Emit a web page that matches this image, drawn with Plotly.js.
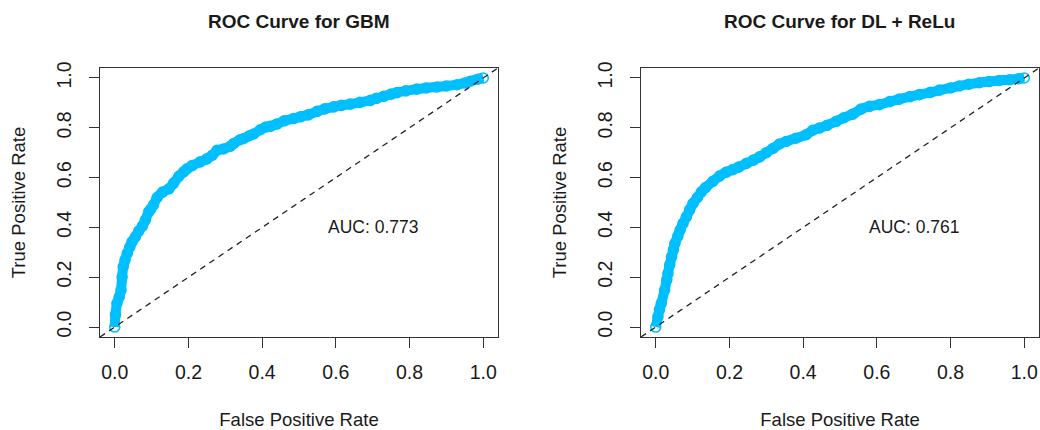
<!DOCTYPE html>
<html>
<head>
<meta charset="utf-8">
<script src="https://cdn.plot.ly/plotly-3.0.1.min.js"></script>
<style>html,body{margin:0;padding:0;background:#fff;}#chart{width:1040px;height:430px;}</style>
</head>
<body>
<div id="chart"></div>
<script>
// ---- data ----
const modelNames = ["GBM", "DL + ReLu"];
const aucValues = [0.773, 0.761];
const tickValues = [0, 0.2, 0.4, 0.6, 0.8, 1.0];
const tickLabels = ["0.0", "0.2", "0.4", "0.6", "0.8", "1.0"];
const axisRange = [-0.04, 1.04];

const gbmFpr = [0, 0.002, 0.006, 0.012, 0.017, 0.02, 0.023, 0.028, 0.034, 0.041, 0.047, 0.056, 0.065, 0.075, 0.083, 0.092, 0.097, 0.105, 0.115, 0.13, 0.147, 0.16, 0.174, 0.187, 0.196, 0.21, 0.232, 0.25, 0.265, 0.278, 0.295, 0.314, 0.323, 0.34, 0.35, 0.365, 0.377, 0.395, 0.41, 0.422, 0.44, 0.46, 0.485, 0.504, 0.525, 0.549, 0.57, 0.594, 0.615, 0.639, 0.665, 0.694, 0.71, 0.73, 0.75, 0.766, 0.79, 0.82, 0.845, 0.874, 0.9, 0.929, 0.95, 0.965, 0.985, 1.0];
const gbmTpr = [0, 0.05, 0.095, 0.12, 0.148, 0.2, 0.242, 0.27, 0.296, 0.322, 0.342, 0.362, 0.385, 0.405, 0.429, 0.462, 0.472, 0.49, 0.52, 0.542, 0.555, 0.578, 0.605, 0.623, 0.635, 0.648, 0.663, 0.675, 0.69, 0.71, 0.715, 0.726, 0.737, 0.752, 0.757, 0.768, 0.775, 0.792, 0.803, 0.806, 0.815, 0.828, 0.837, 0.844, 0.852, 0.866, 0.876, 0.884, 0.89, 0.895, 0.902, 0.91, 0.918, 0.926, 0.935, 0.941, 0.948, 0.955, 0.96, 0.964, 0.968, 0.973, 0.98, 0.987, 0.995, 1.0];

const dlFpr = [0, 0.006, 0.01, 0.015, 0.024, 0.03, 0.033, 0.038, 0.043, 0.048, 0.052, 0.06, 0.066, 0.074, 0.083, 0.092, 0.101, 0.113, 0.124, 0.135, 0.155, 0.173, 0.192, 0.209, 0.225, 0.246, 0.265, 0.282, 0.3, 0.318, 0.336, 0.354, 0.38, 0.408, 0.426, 0.444, 0.465, 0.49, 0.51, 0.535, 0.557, 0.58, 0.607, 0.635, 0.661, 0.69, 0.715, 0.745, 0.77, 0.8, 0.824, 0.85, 0.878, 0.905, 0.932, 0.96, 0.985, 1.0];
const dlTpr = [0, 0.041, 0.07, 0.095, 0.148, 0.19, 0.215, 0.25, 0.282, 0.31, 0.336, 0.365, 0.389, 0.416, 0.442, 0.47, 0.496, 0.52, 0.543, 0.56, 0.585, 0.606, 0.622, 0.632, 0.642, 0.657, 0.67, 0.683, 0.7, 0.717, 0.735, 0.745, 0.758, 0.772, 0.79, 0.799, 0.81, 0.826, 0.84, 0.855, 0.875, 0.886, 0.893, 0.905, 0.915, 0.925, 0.933, 0.942, 0.951, 0.96, 0.968, 0.975, 0.981, 0.986, 0.99, 0.993, 0.997, 1.0];

// ---- styling ----
const FONT = "Liberation Sans, Arial, Helvetica, sans-serif";
const INK = "#1a1a1a";
const CURVE = "#00BFFF";

function rocTraces(fpr, tpr, xa, ya) {
  return [
    {x: fpr, y: tpr, xaxis: xa, yaxis: ya, type: "scatter", mode: "lines",
     line: {color: CURVE, width: 10, shape: "spline", smoothing: 0.6}, hoverinfo: "skip", showlegend: false},
    {x: fpr, y: tpr, xaxis: xa, yaxis: ya, type: "scatter", mode: "markers",
     marker: {symbol: "circle-open", size: 10, color: CURVE, line: {width: 1.6, color: CURVE}},
     hoverinfo: "skip", showlegend: false},
    {x: axisRange, y: axisRange, xaxis: xa, yaxis: ya, type: "scatter", mode: "lines",
     line: {color: "#222", width: 1.3, dash: "6px,5px"}, hoverinfo: "skip", showlegend: false}
  ];
}

const data = [].concat(
  rocTraces(gbmFpr, gbmTpr, "x", "y"),
  rocTraces(dlFpr, dlTpr, "x2", "y2")
);

function xAxis(domain, anchor) {
  return {
    domain: domain, anchor: anchor, range: axisRange, autorange: false,
    tickvals: tickValues, ticktext: tickLabels,
    ticks: "outside", ticklen: 10, tickwidth: 1, tickcolor: "#333",
    showline: true, mirror: true, linecolor: "#333", linewidth: 1,
    showgrid: false, zeroline: false,
    tickfont: {family: FONT, size: 19.5, color: INK},
    ticklabelstandoff: 8,
    title: {text: "False Positive Rate", font: {family: FONT, size: 18.5, color: INK}, standoff: 32}
  };
}
function yAxis(anchor) {
  return {
    domain: [0, 1], anchor: anchor, range: axisRange, autorange: false,
    tickvals: tickValues, ticktext: tickLabels, tickangle: -90,
    ticks: "outside", ticklen: 10, tickwidth: 1, tickcolor: "#333",
    showline: true, mirror: true, linecolor: "#333", linewidth: 1,
    showgrid: false, zeroline: false,
    tickfont: {family: FONT, size: 19.5, color: INK},
    ticklabelstandoff: 10,
    title: {text: "True Positive Rate", font: {family: FONT, size: 18.5, color: INK}, standoff: 22}
  };
}

const annotations = [];
[["x", "y"], ["x2", "y2"]].forEach(function (refs, i) {
  annotations.push({
    text: "ROC Curve for " + modelNames[i], xref: refs[0] + " domain", yref: "paper",
    x: 0.5, y: 1.1747, xanchor: "center", yanchor: "middle", showarrow: false,
    font: {family: FONT, size: 19, color: INK, weight: "bold"}
  });
  annotations.push({
    text: "AUC: " + aucValues[i].toFixed(3), xref: refs[0], yref: refs[1],
    x: 0.7, y: 0.4, xanchor: "center", yanchor: "middle", showarrow: false,
    font: {family: FONT, size: 17.5, color: INK}
  });
});

const layout = {
  width: 1040, height: 430,
  margin: {l: 100, r: 1, t: 68, b: 93, pad: 0},
  paper_bgcolor: "#fff", plot_bgcolor: "#fff",
  showlegend: false,
  xaxis: xAxis([0, 0.42386], "y"),
  yaxis: yAxis("x"),
  xaxis2: xAxis([0.57614, 1], "y2"),
  yaxis2: yAxis("x2"),
  annotations: annotations
};

Plotly.newPlot("chart", data, layout, {staticPlot: true, displayModeBar: false});
</script>
</body>
</html>
